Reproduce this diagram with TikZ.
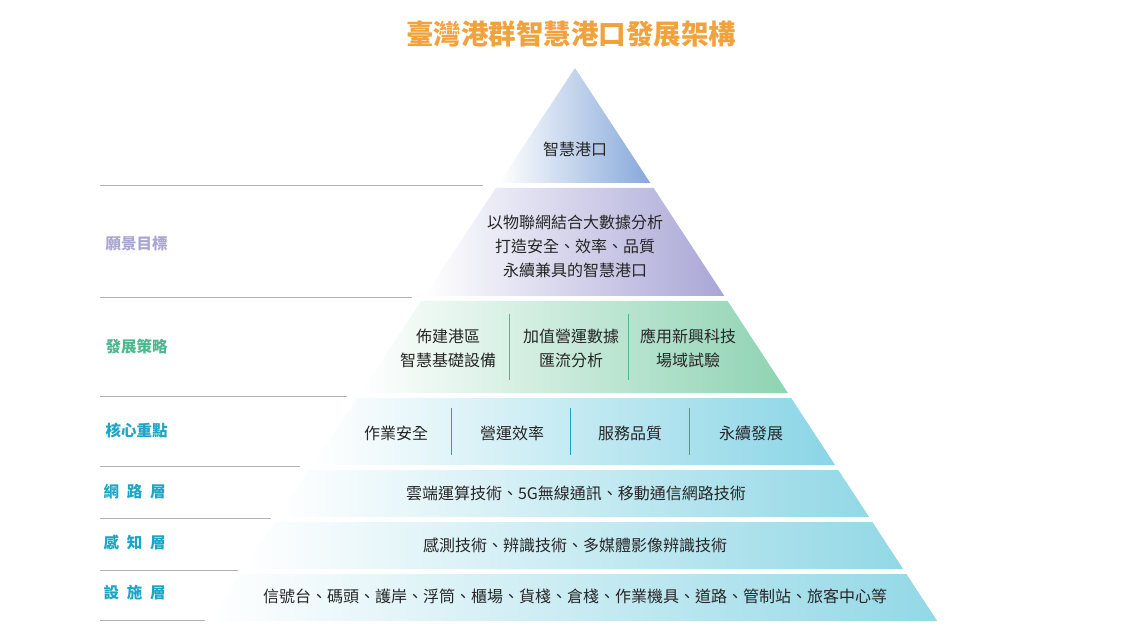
\documentclass[tikz,border=0pt]{standalone}
\usepackage{fontspec}
\setmainfont{Noto Sans CJK TC}
\begin{document}
\begin{tikzpicture}[x=1pt,y=-1pt,
  lbl/.style={anchor=west,font=\fontsize{15.5}{16}\selectfont\bfseries},
  txt/.style={font=\fontsize{16}{24}\selectfont,align=center,text=black!85},
  sep/.style={draw=black!30,line width=0.8pt}]
\definecolor{cT}{HTML}{86A8DA}
\definecolor{cV}{HTML}{A9A6D6}
\definecolor{cS}{HTML}{8ED3B2}
\definecolor{cK}{HTML}{8AD5E6}
\definecolor{cN}{HTML}{93D8E6}
\definecolor{lV}{HTML}{AAA6D2}
\definecolor{lS}{HTML}{4DB890}
\definecolor{lK}{HTML}{1CA6C4}
\definecolor{ttl}{HTML}{F0A23C}
\useasboundingbox (0,0) rectangle (1141,636);
\newcommand{\lx}[1]{575-0.66*(#1-68)}
\newcommand{\rx}[1]{575+0.655*(#1-68)}
\node[font=\fontsize{27.5}{30}\selectfont\bfseries,text=ttl] (title) at (571,34) {臺灣港群智慧港口發展架構};
% layers
\shade[left color=white,right color=cT] (575,68) -- ({\rx{183}},183) -- ({\lx{183}},183) -- cycle;
\shade[left color=white,right color=cV] ({\lx{188}},188) -- ({\rx{188}},188) -- ({\rx{296}},296) -- ({\lx{296}},296) -- cycle;
\shade[left color=white,right color=cS] ({\lx{301}},301) -- ({\rx{301}},301) -- ({\rx{393}},393) -- ({\lx{393}},393) -- cycle;
\shade[left color=white,right color=cK] ({\lx{398}},398) -- ({\rx{398}},398) -- ({\rx{465}},465) -- ({\lx{465}},465) -- cycle;
\shade[left color=white,right color=cN] ({\lx{470}},470) -- ({\rx{470}},470) -- ({\rx{517}},517) -- ({\lx{517}},517) -- cycle;
\shade[left color=white,right color=cN] ({\lx{522}},522) -- ({\rx{522}},522) -- ({\rx{569}},569) -- ({\lx{569}},569) -- cycle;
\shade[left color=white,right color=cN] ({\lx{574}},574) -- ({\rx{574}},574) -- ({\rx{621}},621) -- ({\lx{621}},621) -- cycle;
% texts
\node[txt] (t1) at (575,149) {智慧港口};
\node[txt] (t2) at (575,246) {以物聯網結合大數據分析\\打造安全、效率、品質\\永續兼具的智慧港口};
\node[txt] (s1) at (448,348) {佈建港區\\智慧基礎設備};
\node[txt] (s2) at (571,348) {加值營運數據\\匯流分析};
\node[txt] (s3) at (688,348) {應用新興科技\\場域試驗};
\node[txt] (k1) at (396,433) {作業安全};
\node[txt] (k2) at (512,433) {營運效率};
\node[txt] (k3) at (630,433) {服務品質};
\node[txt] (k4) at (751,433) {永續發展};
\node[txt] (n1) at (576,493) {雲端運算技術、5G無線通訊、移動通信網路技術};
\node[txt] (n2) at (575,545) {感測技術、辨識技術、多媒體影像辨識技術};
\node[txt] (n3) at (575,596) {信號台、碼頭、護岸、浮筒、櫃場、貨棧、倉棧、作業機具、道路、管制站、旅客中心等};
\draw[lS,line width=0.8pt] (509,314) -- (509,380);
\draw[lS,line width=0.8pt] (628,314) -- (628,380);
\draw[lK,line width=0.8pt] (451,408) -- (451,455);
\draw[lK,line width=0.8pt] (570,408) -- (570,455);
\draw[lK,line width=0.8pt] (689,408) -- (689,455);
% left labels and lines
\draw[sep] (100,185) -- (483,185);
\draw[sep] (100,297) -- (412,297);
\draw[sep] (100,396) -- (347,396);
\draw[sep] (100,466) -- (300,466);
\draw[sep] (100,518) -- (271,518);
\draw[sep] (100,570) -- (238,570);
\draw[sep] (100,620) -- (205,620);
\node[lbl,text=lV] (l1) at (102,244) {願景目標};
\node[lbl,text=lS] (l2) at (102,347) {發展策略};
\node[lbl,text=lK] (l3) at (102,431) {核心重點};
\node[lbl,text=lK] (l4) at (100,492) {網\hspace{0.5em}路\hspace{0.5em}層};
\node[lbl,text=lK] (l5) at (100,543) {感\hspace{0.5em}知\hspace{0.5em}層};
\node[lbl,text=lK] (l6) at (100,593) {設\hspace{0.5em}施\hspace{0.5em}層};
\end{tikzpicture}
\end{document}
